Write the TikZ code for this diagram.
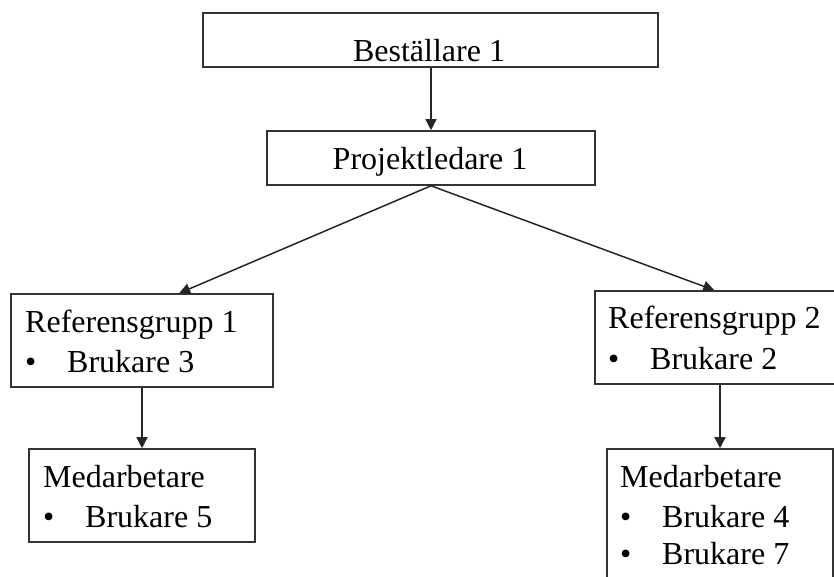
\documentclass[tikz,border=0pt]{standalone}
\usepackage{fontspec}
\setmainfont{Liberation Serif}
\usetikzlibrary{arrows.meta}
\begin{document}
\begin{tikzpicture}[x=1pt,y=-1pt,
  box/.style={draw=black!80, line width=1.6pt, rectangle, inner sep=0pt},
  label/.style={inner sep=0pt, font=\fontsize{32}{40}\selectfont, text=black},
  link/.style={draw=black!85, line width=1.5pt, -{Triangle[length=11pt,width=11pt]}},
  ]
\useasboundingbox (0,0) rectangle (834,577);
\clip (0,0) rectangle (834,577);
\newcommand{\bulletline}[1]{\makebox[42pt][l]{\textbullet}#1}

% boxes
\node[box, minimum width=455pt, minimum height=54pt] (bes) at (430.5,40) {};
\node[box, minimum width=328pt, minimum height=54pt] (pro) at (431,158) {};
\node[box, minimum width=262pt, minimum height=93pt] (ref1) at (142,340.5) {};
\node[box, minimum width=265pt, minimum height=93pt] (ref2) at (727.5,337.5) {};
\node[box, minimum width=226pt, minimum height=93pt] (med1) at (142,495.5) {};
\node[box, minimum width=226pt, minimum height=151pt] (med2) at (720,524.5) {};

% texts
\node[label, anchor=base] (tbes) at (429,62) {Beställare 1};
\node[label, anchor=base] (tpro) at (430,170) {Projektledare 1};
\node[label, anchor=base west] (tref1) at (25,332) {Referensgrupp 1};
\node[label, anchor=base west] (tref1a) at (25,372) {\bulletline{Brukare 3}};
\node[label, anchor=base west] (tref2) at (608,328) {Referensgrupp 2};
\node[label, anchor=base west] (tref2a) at (608,369) {\bulletline{Brukare 2}};
\node[label, anchor=base west] (tmed1) at (43,487) {Medarbetare};
\node[label, anchor=base west] (tmed1a) at (43,527) {\bulletline{Brukare 5}};
\node[label, anchor=base west] (tmed2) at (620,487) {Medarbetare};
\node[label, anchor=base west] (tmed2a) at (620,527) {\bulletline{Brukare 4}};
\node[label, anchor=base west] (tmed2b) at (620,564) {\bulletline{Brukare 7}};

% connectors
\draw[link] (pro.north |- bes.south) -- (pro.north);
\draw[link] (pro.south) -- ([xshift=169pt]ref1.north west);
\draw[link] (pro.south) -- ([xshift=120pt]ref2.north west);
\draw[link] (ref1.south) -- (med1.north);
\draw[link] (med2.north |- ref2.south) -- (med2.north);
\end{tikzpicture}
\end{document}
